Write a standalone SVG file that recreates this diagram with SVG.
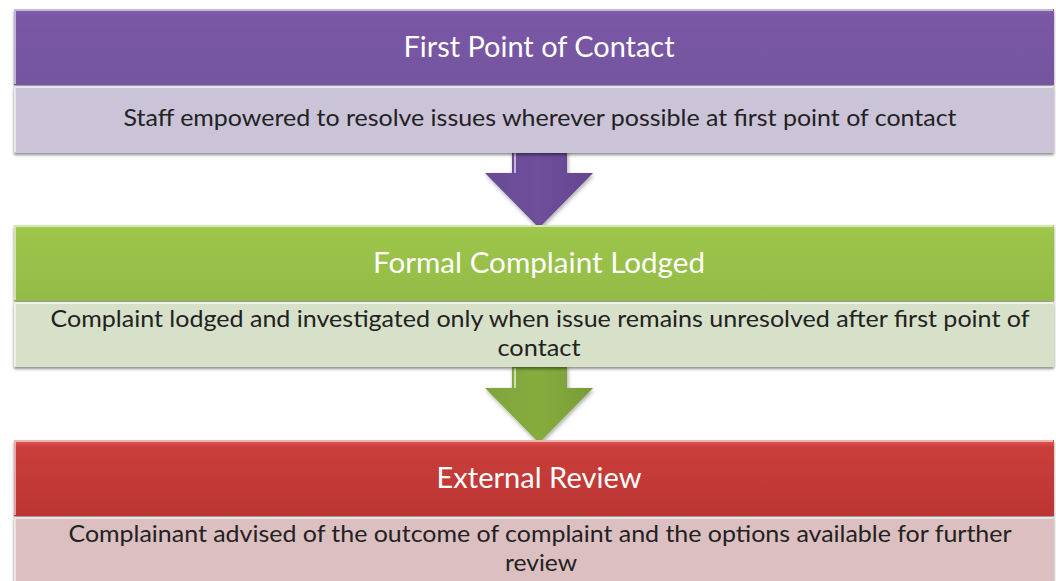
<svg xmlns="http://www.w3.org/2000/svg" width="1056" height="581" viewBox="0 0 1056 581">
  <defs>
    <linearGradient id="gPurple" x1="0" y1="0" x2="0" y2="1">
      <stop offset="0" stop-color="#8462AE"/>
      <stop offset="0.08" stop-color="#7A58A6"/>
      <stop offset="1" stop-color="#74549F"/>
    </linearGradient>
    <linearGradient id="gGreen" x1="0" y1="0" x2="0" y2="1">
      <stop offset="0" stop-color="#A6CC55"/>
      <stop offset="0.08" stop-color="#9DC54B"/>
      <stop offset="1" stop-color="#94BB45"/>
    </linearGradient>
    <linearGradient id="gRed" x1="0" y1="0" x2="0" y2="1">
      <stop offset="0" stop-color="#E05A57"/>
      <stop offset="0.1" stop-color="#C93D3A"/>
      <stop offset="1" stop-color="#BC3533"/>
    </linearGradient>
    <linearGradient id="gArrowP" x1="0" y1="0" x2="1" y2="0">
      <stop offset="0" stop-color="#6A4B96"/>
      <stop offset="0.5" stop-color="#6E4F9A"/>
      <stop offset="1" stop-color="#634590"/>
    </linearGradient>
    <linearGradient id="gArrowG" x1="0" y1="0" x2="1" y2="0">
      <stop offset="0" stop-color="#7FA43A"/>
      <stop offset="0.5" stop-color="#86AC3E"/>
      <stop offset="1" stop-color="#789C35"/>
    </linearGradient>
    <filter id="shadow" x="-5%" y="-20%" width="110%" height="150%">
      <feGaussianBlur in="SourceAlpha" stdDeviation="1.5"/>
      <feOffset dx="0" dy="2" result="b"/>
      <feComponentTransfer><feFuncA type="linear" slope="0.45"/></feComponentTransfer>
      <feMerge><feMergeNode/><feMergeNode in="SourceGraphic"/></feMerge>
    </filter>
    <filter id="ashadow" x="-20%" y="-20%" width="140%" height="150%">
      <feGaussianBlur in="SourceAlpha" stdDeviation="2"/>
      <feOffset dx="1" dy="2"/>
      <feComponentTransfer><feFuncA type="linear" slope="0.35"/></feComponentTransfer>
      <feMerge><feMergeNode/><feMergeNode in="SourceGraphic"/></feMerge>
    </filter>
  </defs>
  <style>
    .title { font-family: Lato, "Liberation Sans", sans-serif; font-size: 28px; fill: #FFFFFF; text-anchor: middle; }
    .desc { font-family: Lato, "Liberation Sans", sans-serif; font-size: 23px; fill: #222222; text-anchor: middle; }
    .hi { fill: none; stroke: #FFFFFF; stroke-opacity: 0.55; stroke-width: 2; }
  </style>
  <rect width="1056" height="581" fill="#FFFFFF"/>

  <!-- connectors: block arrows between stages -->
  <g id="connectors">
    <path d="M512,150 L567,150 L567,173 L593,173 L539,228 L485,173 L512,173 Z" fill="url(#gArrowP)" filter="url(#ashadow)"/>
    <path d="M515,152 L515,173" stroke="#FFFFFF" stroke-opacity="0.6" stroke-width="2"/>
    <path d="M512,366 L567,366 L567,388 L593,388 L539,443 L485,388 L512,388 Z" fill="url(#gArrowG)" filter="url(#ashadow)"/>
    <path d="M515,368 L515,388" stroke="#FFFFFF" stroke-opacity="0.6" stroke-width="2"/>
  </g>

  <!-- stage 1 -->
  <g id="first-point-of-contact">
    <g filter="url(#shadow)">
      <rect x="14" y="86" width="1040" height="67" fill="#CBC3D7"/>
      <rect x="14" y="9" width="1040" height="76" fill="url(#gPurple)"/>
    </g>
    <path class="hi" d="M15,84 L15,10 L1053,10"/>
    <path class="hi" d="M15,152 L15,87 L1053,87"/>
    <text class="title" x="539" y="57" textLength="271" lengthAdjust="spacingAndGlyphs">First Point of Contact</text>
    <text class="desc" x="540" y="126" textLength="833" lengthAdjust="spacingAndGlyphs">Staff empowered to resolve issues wherever possible at first point of contact</text>
  </g>

  <!-- stage 2 -->
  <g id="formal-complaint-lodged">
    <g filter="url(#shadow)">
      <rect x="14" y="302" width="1040" height="65" fill="#D7E0C8"/>
      <rect x="14" y="225" width="1040" height="76" fill="url(#gGreen)"/>
    </g>
    <path class="hi" d="M15,300 L15,226 L1053,226"/>
    <path class="hi" d="M15,366 L15,303 L1053,303"/>
    <text class="title" x="539" y="273" textLength="332" lengthAdjust="spacingAndGlyphs">Formal Complaint Lodged</text>
    <text class="desc" x="540" y="327" textLength="979" lengthAdjust="spacingAndGlyphs">Complaint lodged and investigated only when issue remains unresolved after first point of</text>
    <text class="desc" x="539" y="356" textLength="83" lengthAdjust="spacingAndGlyphs">contact</text>
  </g>

  <!-- stage 3 -->
  <g id="external-review">
    <g filter="url(#shadow)">
      <rect x="14" y="517" width="1040" height="70" fill="#DCBFC0"/>
      <rect x="14" y="440" width="1040" height="76" fill="url(#gRed)"/>
    </g>
    <path class="hi" d="M15,515 L15,441 L1053,441"/>
    <path class="hi" d="M15,581 L15,518 L1053,518"/>
    <text class="title" x="539" y="488" textLength="205" lengthAdjust="spacingAndGlyphs">External Review</text>
    <text class="desc" x="540" y="542" textLength="943" lengthAdjust="spacingAndGlyphs">Complainant advised of the outcome of complaint and the options available for further</text>
    <text class="desc" x="541" y="571" textLength="72" lengthAdjust="spacingAndGlyphs">review</text>
  </g>
</svg>
